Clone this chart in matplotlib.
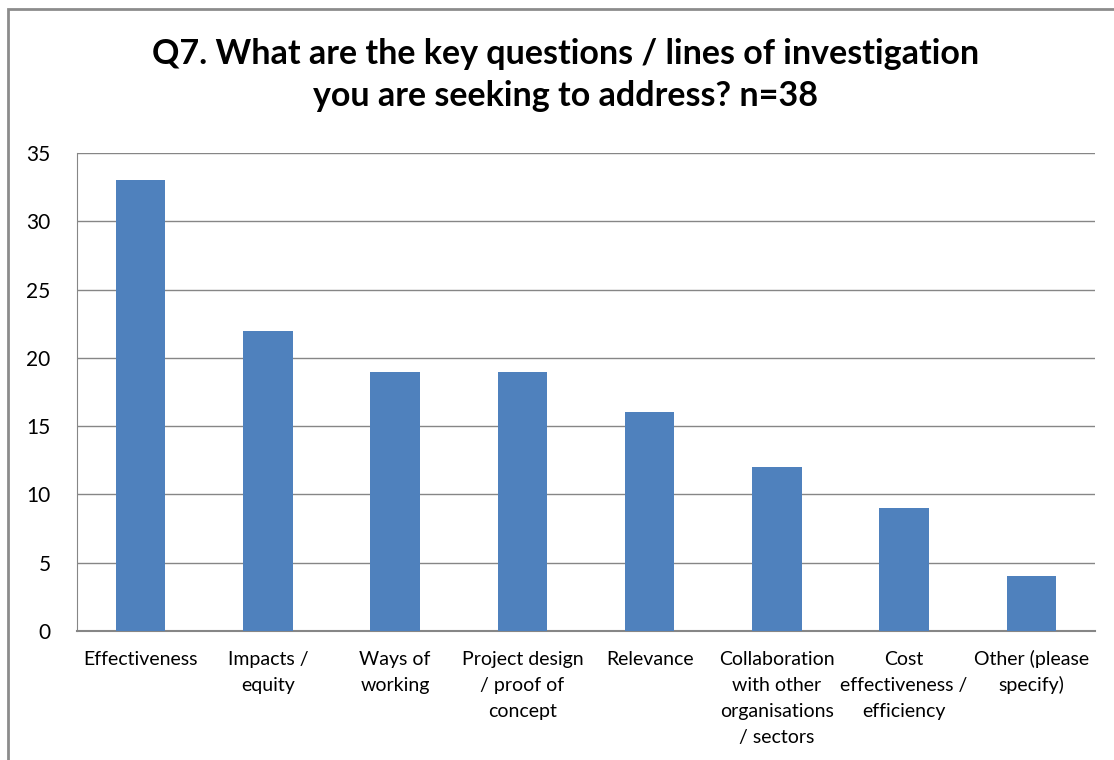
import matplotlib.pyplot as plt
import matplotlib.transforms as mtransforms
from matplotlib.patches import Rectangle

categories = ['Effectiveness', 'Impacts /\nequity', 'Ways of\nworking',
              'Project design\n/ proof of\nconcept', 'Relevance',
              'Collaboration\nwith other\norganisations\n/ sectors',
              'Cost\neffectiveness /\nefficiency', 'Other (please\nspecify)']
counts = [33, 22, 19, 19, 16, 12, 9, 4]
yticks = [0, 5, 10, 15, 20, 25, 30, 35]

plt.rcParams['font.family'] = ['Lato', 'DejaVu Sans']

fig = plt.figure(figsize=(11.14, 7.6), dpi=100)
fig.patch.set_facecolor('white')

# outer chart frame (runs off the right and bottom edges)
fig.patches.append(Rectangle((8 / 1114, -0.1), 1.2, 1 - 9 / 760 + 0.1,
                             transform=fig.transFigure, fill=False,
                             edgecolor='#8c8c8c', linewidth=2, zorder=0))

ax = fig.add_axes([77 / 1114, 1 - 631 / 760, (1095 - 77) / 1114, (631 - 153) / 760])
x = list(range(len(categories)))
ax.bar(x, counts, width=0.39, color='#4f81bd', zorder=3)

ax.set_ylim(0, 35)
ax.set_xlim(-0.5, len(categories) - 0.5)
ax.set_yticks(yticks)
ax.set_xticks(x)
ax.set_xticklabels([])
ax.tick_params(axis='y', labelsize=15, length=0, pad=19)
ax.tick_params(axis='x', length=0)

# category labels, one line at a time so every first line shares a baseline
base = ax.get_xaxis_transform()
for xi, label in zip(x, categories):
    for i, line in enumerate(label.split('\n')):
        tr = mtransforms.offset_copy(base, fig=fig, x=0, y=-(24.5 + 18.7 * i), units='points')
        ax.text(xi, 0, line, transform=tr, ha='center', va='baseline', fontsize=14)

ax.grid(axis='y', color='#868686', linewidth=1, zorder=0)
for side in ['right', 'top']:
    ax.spines[side].set_visible(False)
ax.spines['left'].set_color('#868686')
ax.spines['bottom'].set_color('#868686')
ax.spines['bottom'].set_linewidth(1.5)

fig.text(0.508, 1 - 75 / 760,
         'Q7. What are the key questions / lines of investigation\nyou are seeking to address? n=38',
         ha='center', va='center', fontsize=24.5, fontweight='bold',
         linespacing=1.4)

fig.savefig('out.png', dpi=100)
